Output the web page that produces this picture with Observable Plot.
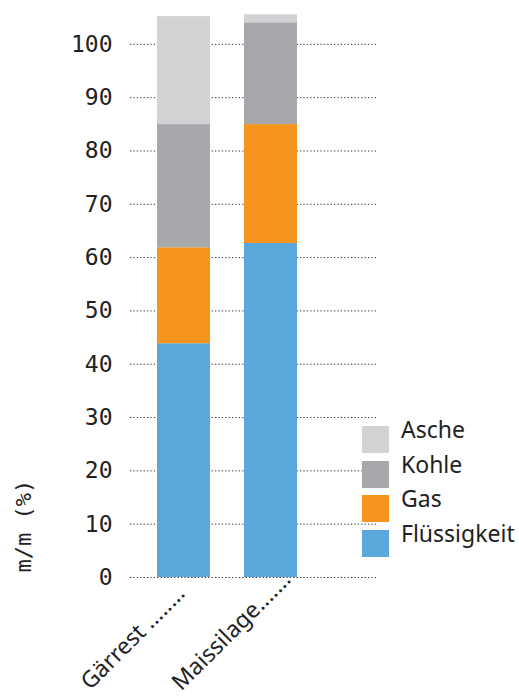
<!DOCTYPE html>
<html><head><meta charset="utf-8">
<script src="https://cdn.jsdelivr.net/npm/d3@7"></script>
<script src="https://cdn.jsdelivr.net/npm/@observablehq/plot@0.6"></script>
<style>
body{margin:0;background:#fff}
#wrap{position:relative;width:519px;height:697px}
#legend{position:absolute;left:362px;top:426px;font-family:"Noto Sans",sans-serif;font-size:23px;color:#222}
.row{position:relative;height:34.5px}
.sw{position:absolute;left:0;top:0;width:27px;height:27px}
.lt{position:absolute;left:39px;top:-8px;line-height:23px;white-space:nowrap}
</style>
</head><body><div id="wrap"></div>
<script>
const categories = ["Gärrest", "Maissilage"];
const categoryLabels = ["Gärrest ........", "Maissilage......."];
const series = ["Flüssigkeit", "Gas", "Kohle", "Asche"];
const colors = ["#5ba8dc", "#f7941d", "#a7a8ab", "#d1d2d4"];
const flussigkeit = [43.85, 62.65];
const gas = [18.0, 22.3];
const kohle = [23.1, 19.1];
const asche = [20.25, 1.5];
const yTicks = [0, 10, 20, 30, 40, 50, 60, 70, 80, 90, 100];
const yLabel = "m/m (%)";

const valuesBySeries = [flussigkeit, gas, kohle, asche];
const data = [];
categories.forEach((c, i) => {
  series.forEach((s, j) => data.push({category: c, series: s, value: valuesBySeries[j][i]}));
});

const labelFont = {fontSize: 23, fontFamily: "Noto Sans", fill: "#222", rotate: -45, textAnchor: "end", lineAnchor: "middle", frameAnchor: "bottom"};

const plot = Plot.plot({
  width: 519, height: 697,
  marginLeft: 130, marginRight: 142, marginTop: 14, marginBottom: 120,
  x: {domain: categories, range: [139.75, 314.75], paddingInner: 0.389, paddingOuter: 0.1945, axis: null},
  y: {domain: [0, 105.6], axis: null},
  color: {domain: series, range: colors},
  marks: [
    Plot.ruleY(yTicks, {stroke: "#333", strokeDasharray: "1.3,2.1", strokeWidth: 1}),
    Plot.barY(data, {x: "category", y: "value", fill: "series"}),
    Plot.axisY(yTicks, {tickSize: 0, tickPadding: 18, fontSize: 23, fontFamily: "DejaVu Sans Mono", fill: "#222", label: null}),
    Plot.text([categories[0]], {x: d => d, text: () => categoryLabels[0], dx: -3, dy: 12, ...labelFont}),
    Plot.text([categories[1]], {x: d => d, text: () => categoryLabels[1], dx: 16, dy: -2, ...labelFont}),
    Plot.text([yLabel], {text: d => d, frameAnchor: "bottom-left", dx: -107, dy: -5, rotate: -90, textAnchor: "start", lineAnchor: "middle", fontSize: 22, fontFamily: "DejaVu Sans Mono", fill: "#222"})
  ]
});
const wrap = document.getElementById("wrap");
wrap.appendChild(plot);

const legend = document.createElement("div");
legend.id = "legend";
series.slice().reverse().forEach(s => {
  const row = document.createElement("div");
  row.className = "row";
  const sw = document.createElement("div");
  sw.className = "sw";
  sw.style.background = colors[series.indexOf(s)];
  const t = document.createElement("div");
  t.className = "lt";
  t.textContent = s;
  row.appendChild(sw); row.appendChild(t);
  legend.appendChild(row);
});
wrap.appendChild(legend);
</script>
</body></html>
